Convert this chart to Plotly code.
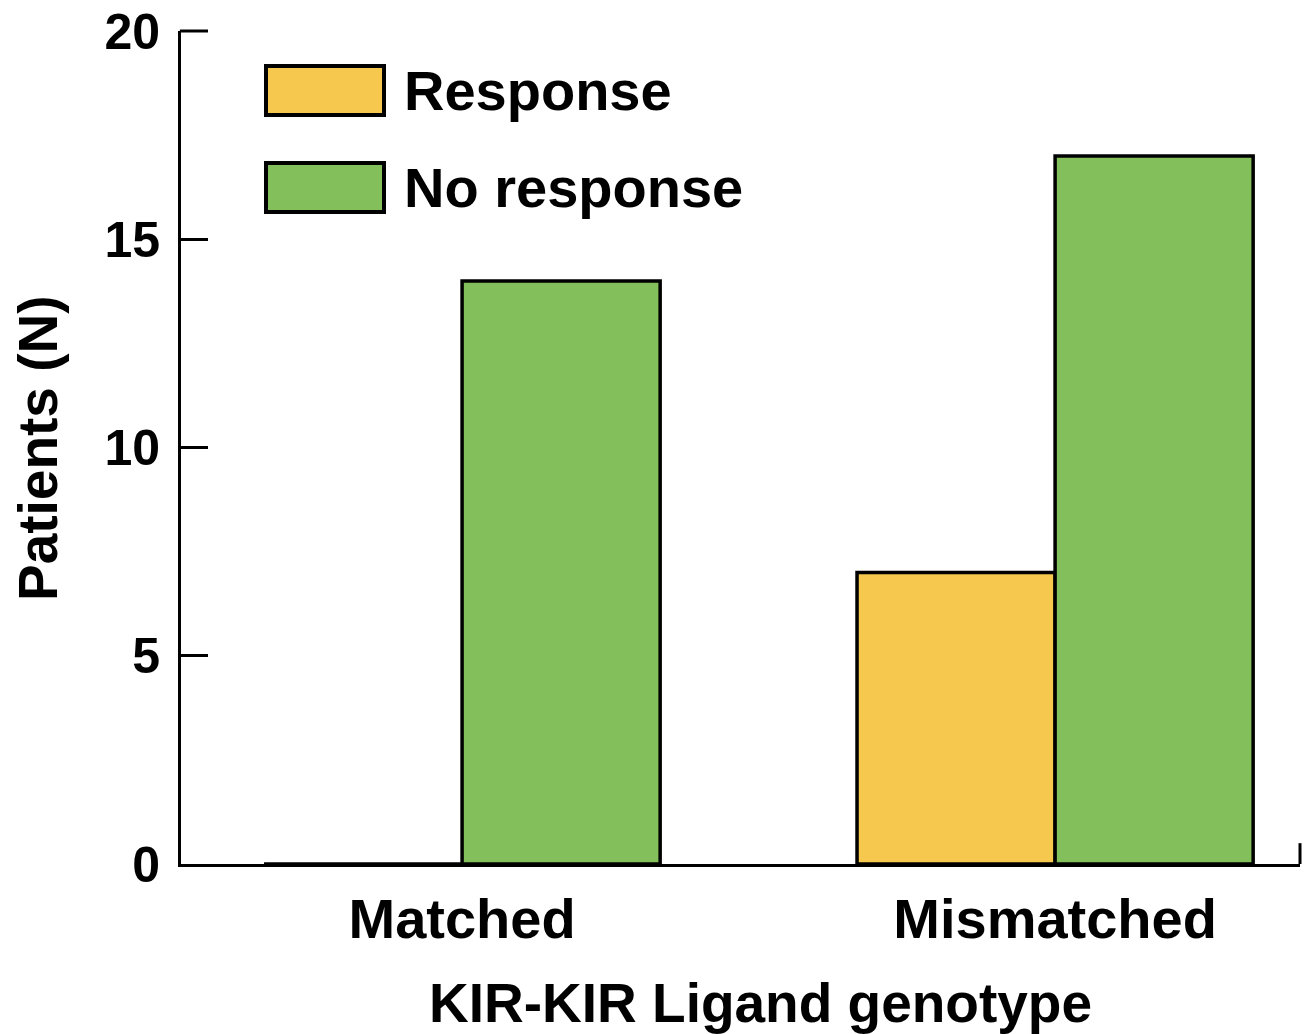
import plotly.graph_objects as go

categories = ["Matched", "Mismatched"]
series_names = ["Response", "No response"]
response = [0, 7]
no_response = [14, 17]
y_ticks = [0, 5, 10, 15, 20]
colors = ["#F6C94E", "#83BF5B"]
x_pos = list(range(len(categories)))

FONT = "Liberation Sans, Arial, sans-serif"

fig = go.Figure()
for name, vals, col in zip(series_names, [response, no_response], colors):
    fig.add_trace(go.Bar(
        x=x_pos, y=vals, name=name,
        marker=dict(color=col, line=dict(color="black", width=3.5)),
        showlegend=False,
    ))

fig.update_layout(
    width=1309, height=1034,
    margin=dict(l=181, r=9, t=31, b=170, autoexpand=False),
    barmode="group", bargap=0.332, bargroupgap=0,
    plot_bgcolor="white", paper_bgcolor="white",
    font=dict(family=FONT, color="black"),
)
fig.update_xaxes(
    range=[-0.474, 1.413], tickvals=x_pos, ticktext=categories,
    showgrid=False, zeroline=False, showline=True, linecolor="black", linewidth=3,
    ticks="", tickfont=dict(size=56, family=FONT, weight="bold"),
    ticklabelstandoff=4, automargin=False,
)
fig.update_yaxes(
    range=[0, 20], tickvals=y_ticks, showgrid=False, zeroline=False,
    showline=True, linecolor="black", linewidth=3,
    ticks="inside", ticklen=27, tickwidth=3, tickcolor="black",
    tickfont=dict(size=50, family=FONT, weight="bold"),
    ticklabelstandoff=8, automargin=False,
)

# end tick on x axis, and top tick on y axis (ensure visible at range end)
fig.add_shape(type="line", xref="x domain", yref="y", x0=1, x1=1, y0=0, y1=0.5,
              line=dict(color="black", width=3))
fig.add_shape(type="line", xref="x domain", yref="y domain", x0=-0.001, x1=27 / 1119, y0=1, y1=1,
              line=dict(color="black", width=3))

# axis titles
fig.add_annotation(text="<b>KIR-KIR Ligand genotype</b>", xref="paper", yref="paper",
                   x=(760 - 181) / 1119, y=-(1003 - 864) / 833, showarrow=False,
                   font=dict(size=55, family=FONT), xanchor="center", yanchor="middle")
fig.add_annotation(text="<b>Patients (N)</b>", xref="paper", yref="paper",
                   x=-(181 - 38) / 1119, y=(864 - 448) / 833, showarrow=False, textangle=-90,
                   font=dict(size=55, family=FONT), xanchor="center", yanchor="middle")

# legend drawn as boxes + labels
legend_rows = [(66, 115), (163, 212)]
for (top, bot), name, col in zip(legend_rows, series_names, colors):
    fig.add_shape(type="rect", xref="paper", yref="paper",
                  x0=(266 - 181) / 1119, x1=(384 - 181) / 1119,
                  y0=(864 - bot) / 833, y1=(864 - top) / 833,
                  fillcolor=col, line=dict(color="black", width=4))
    fig.add_annotation(text="<b>%s</b>" % name, xref="paper", yref="paper",
                       x=(402 - 181) / 1119, y=(864 - (top + bot) / 2) / 833,
                       showarrow=False, xanchor="left", yanchor="middle",
                       font=dict(size=56, family=FONT))

fig.write_html("out.html", config={"displayModeBar": False},
               post_script="document.body.style.margin='0px';")
